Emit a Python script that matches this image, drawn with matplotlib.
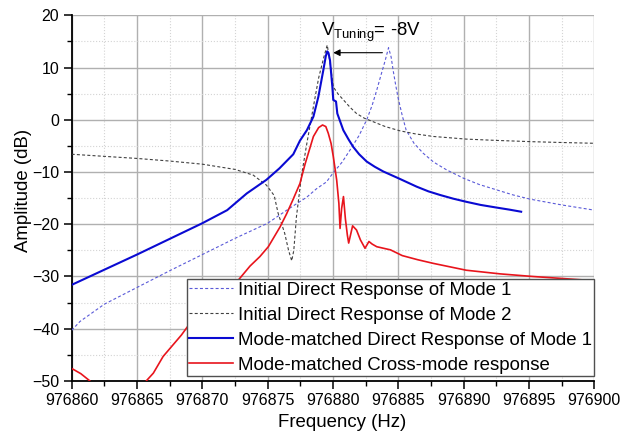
import numpy as np
import matplotlib
matplotlib.use("Agg")
import matplotlib.pyplot as plt
from matplotlib.ticker import MultipleLocator, ScalarFormatter

plt.rcParams['font.family'] = ['Liberation Sans', 'DejaVu Sans']
plt.rcParams['mathtext.fontset'] = 'custom'
plt.rcParams['mathtext.rm'] = 'Liberation Sans'
plt.rcParams['mathtext.it'] = 'Liberation Sans:italic'

F0 = 976860.0

# Initial direct response of mode 1 (offsets in Hz from F0, amplitude in dB)
init1_f = [0, 0.64, 2.5, 5, 7.5, 10, 12.5, 15, 16.7, 18.0, 18.74, 19.5, 20.0,
           20.7, 21.3, 22.0, 22.58, 23.0, 23.35, 23.7, 24.0, 24.25, 24.45,
           24.6, 24.8, 25.0, 25.3, 25.6, 26.2, 26.9, 27.7, 28.7, 30.0, 31.2,
           32.5, 33.8, 35.1, 37.5, 40]
init1_db = [-40.3, -38.6, -35.3, -32.1, -28.9, -25.8, -22.7, -19.8, -16.9,
            -14.8, -13.2, -11.9, -10.2, -8.1, -5.8, -3.0, 0.0, 2.8, 5.7, 8.8,
            11.4, 13.8, 12.0, 9.5, 6.6, 4.0, 0.8, -2.0, -4.5, -6.4, -8.1,
            -9.6, -11.2, -12.4, -13.4, -14.4, -15.2, -16.3, -17.3]

# Initial direct response of mode 2
init2_f = [0, 2.5, 5, 7.5, 10, 12.5, 13.9, 14.9, 15.5, 15.8, 16.3, 16.6, 16.84,
           17.0, 17.2, 17.6, 18.0, 18.5, 18.9, 19.3, 19.56, 19.8, 20.02, 20.4,
           20.8, 21.3, 21.8, 22.4, 23.1, 24.0, 25.1, 26.3, 27.7, 30.2, 32.5,
           35.3, 37.5, 40]
init2_db = [-6.6, -7.0, -7.4, -7.9, -8.5, -9.5, -10.6, -12.5, -14.5, -17.9,
            -21.7, -25.0, -27.0, -25.0, -18.6, -10.5, -4.5, 2.5, 8.0, 12.0,
            14.3, 10.5, 6.3, 4.9, 3.8, 2.4, 1.2, 0.3, -0.4, -1.3, -2.1, -2.7,
            -3.2, -3.7, -3.95, -4.2, -4.35, -4.5]

# Mode-matched direct response of mode 1
mm_f = [0, 2.5, 5, 7.5, 10, 11.9, 13.4, 14.9, 15.9, 16.96, 17.47, 18.0, 18.5,
        18.88, 19.26, 19.45, 19.56, 19.65, 19.77, 19.95, 20.02, 20.23, 20.33,
        20.79, 21.2, 21.55, 22.0, 22.58, 23.2, 23.85, 25.1, 26.4, 27.3, 28.2,
        29.2, 30.2, 31.3, 32.5, 33.5, 34.4]
mm_db = [-31.6, -28.7, -25.8, -22.8, -19.8, -17.3, -14.1, -11.5, -9.3, -6.6,
         -4.0, -2.0, 0.6, 4.4, 9.5, 12.2, 13.1, 12.8, 11.4, 6.3, 3.8, 3.5, 1.2,
         -2.0, -3.8, -5.2, -6.6, -8.0, -9.0, -9.9, -11.3, -12.8, -13.7, -14.4,
         -15.1, -15.7, -16.3, -16.8, -17.2, -17.6]

# Mode-matched cross-mode response (NaN where it runs below the plotted range)
cross_f = [0, 0.7, 1.35, 1.6, np.nan, 5.6, 5.74, 6.25, 7.0, 8.4, 9.8, 11.35,
           12.75, 13.65, 14.4, 15.05, 15.95, 16.45, 16.9, 17.47, 17.86, 18.5,
           18.9, 19.2, 19.45, 19.64, 19.85, 20.02, 20.28, 20.45, 20.54, 20.66,
           20.8, 20.95, 21.1, 21.2, 21.5, 21.8, 22.1, 22.45, 22.75, 23.0, 23.35,
           24.4, 25.3, 26.5, 27.7, 30.2, 32.8, 35.3, 40]
cross_db = [-47.6, -48.6, -49.9, -50.5, np.nan, -50.5, -49.9, -48.5, -45.3,
            -41.2, -36.4, -33.9, -30.7, -28.0, -26.2, -24.3, -20.5, -18.0,
            -15.5, -12.2, -8.5, -3.2, -1.5, -1.0, -1.3, -2.6, -4.5, -7.0, -11.5,
            -16.0, -20.8, -17.0, -14.7, -19.0, -22.1, -23.6, -20.3, -21.1,
            -23.0, -24.6, -23.3, -23.8, -24.3, -24.9, -26.0, -26.8, -27.5,
            -28.8, -29.5, -30.0, -30.8]

labels = ["Initial Direct Response of Mode 1",
          "Initial Direct Response of Mode 2",
          "Mode-matched Direct Response of Mode 1",
          "Mode-matched Cross-mode response"]

fig = plt.figure(figsize=(6.32, 4.32), dpi=100)
ax = fig.add_axes([0.1134, 0.1181, 0.8270, 0.8465])

def hz(offsets):
    return F0 + np.asarray(offsets, dtype=float)

ax.plot(hz(init1_f), init1_db, color='#5a5ad8', lw=0.8,
        linestyle=(0, (2.7, 2.0)), label=labels[0], zorder=3)
ax.plot(hz(init2_f), init2_db, color='#404040', lw=0.8,
        linestyle=(0, (2.7, 2.0)), label=labels[1], zorder=3)
ax.plot(hz(mm_f), mm_db, color='#0a0ad2', lw=1.5, label=labels[2], zorder=4)
ax.plot(hz(cross_f), cross_db, color='#e8141c', lw=1.2, label=labels[3],
        zorder=4)

ax.set_xlim(976860, 976900)
ax.set_ylim(-50, 20)
ax.xaxis.set_major_locator(MultipleLocator(5))
ax.xaxis.set_minor_locator(MultipleLocator(2.5))
ax.yaxis.set_major_locator(MultipleLocator(10))
ax.yaxis.set_minor_locator(MultipleLocator(5))
fmt = ScalarFormatter(useOffset=False)
fmt.set_scientific(False)
ax.xaxis.set_major_formatter(fmt)

ax.grid(True, which='major', color='#b0b0b0', lw=1.0, zorder=0)
ax.grid(True, which='minor', color='#d4d4d4', lw=0.8, linestyle=':', zorder=0)
ax.set_axisbelow(True)

for side in ('top', 'right'):
    ax.spines[side].set_visible(False)
for side in ('left', 'bottom'):
    ax.spines[side].set_linewidth(1.3)
    ax.spines[side].set_color('black')

ax.tick_params(which='major', direction='out', length=6, width=1.1,
               labelsize=11.5, pad=3)
ax.tick_params(which='minor', direction='out', length=3.5, width=1.0)

ax.set_xlabel("Frequency (Hz)", fontsize=13.4)
ax.set_ylabel("Amplitude (dB)", fontsize=13.4)
ax.xaxis.set_label_coords(0.517, -0.09)
ax.yaxis.set_label_coords(-0.076, 0.52)

ax.text(976879.06, 16.0, r"V$_{\rm Tuning}$= -8V", fontsize=13.4,
        ha='left', va='baseline', zorder=6)
ax.annotate("", xy=(976880.02, 12.84), xytext=(976883.78, 12.84),
            arrowprops=dict(arrowstyle='-|>', color='black', lw=0.8,
                            mutation_scale=10, shrinkA=0, shrinkB=0),
            zorder=6)

leg = ax.legend(loc='lower right', bbox_to_anchor=(1.0, 0.0137),
                fontsize=13.4, frameon=True, fancybox=False, framealpha=1,
                edgecolor='#505050', handlelength=2.4, handletextpad=0.25,
                borderpad=0.12, labelspacing=0.43, borderaxespad=0)
leg.get_frame().set_linewidth(1.0)
leg.set_zorder(5)

fig.savefig("out.png", dpi=100)
